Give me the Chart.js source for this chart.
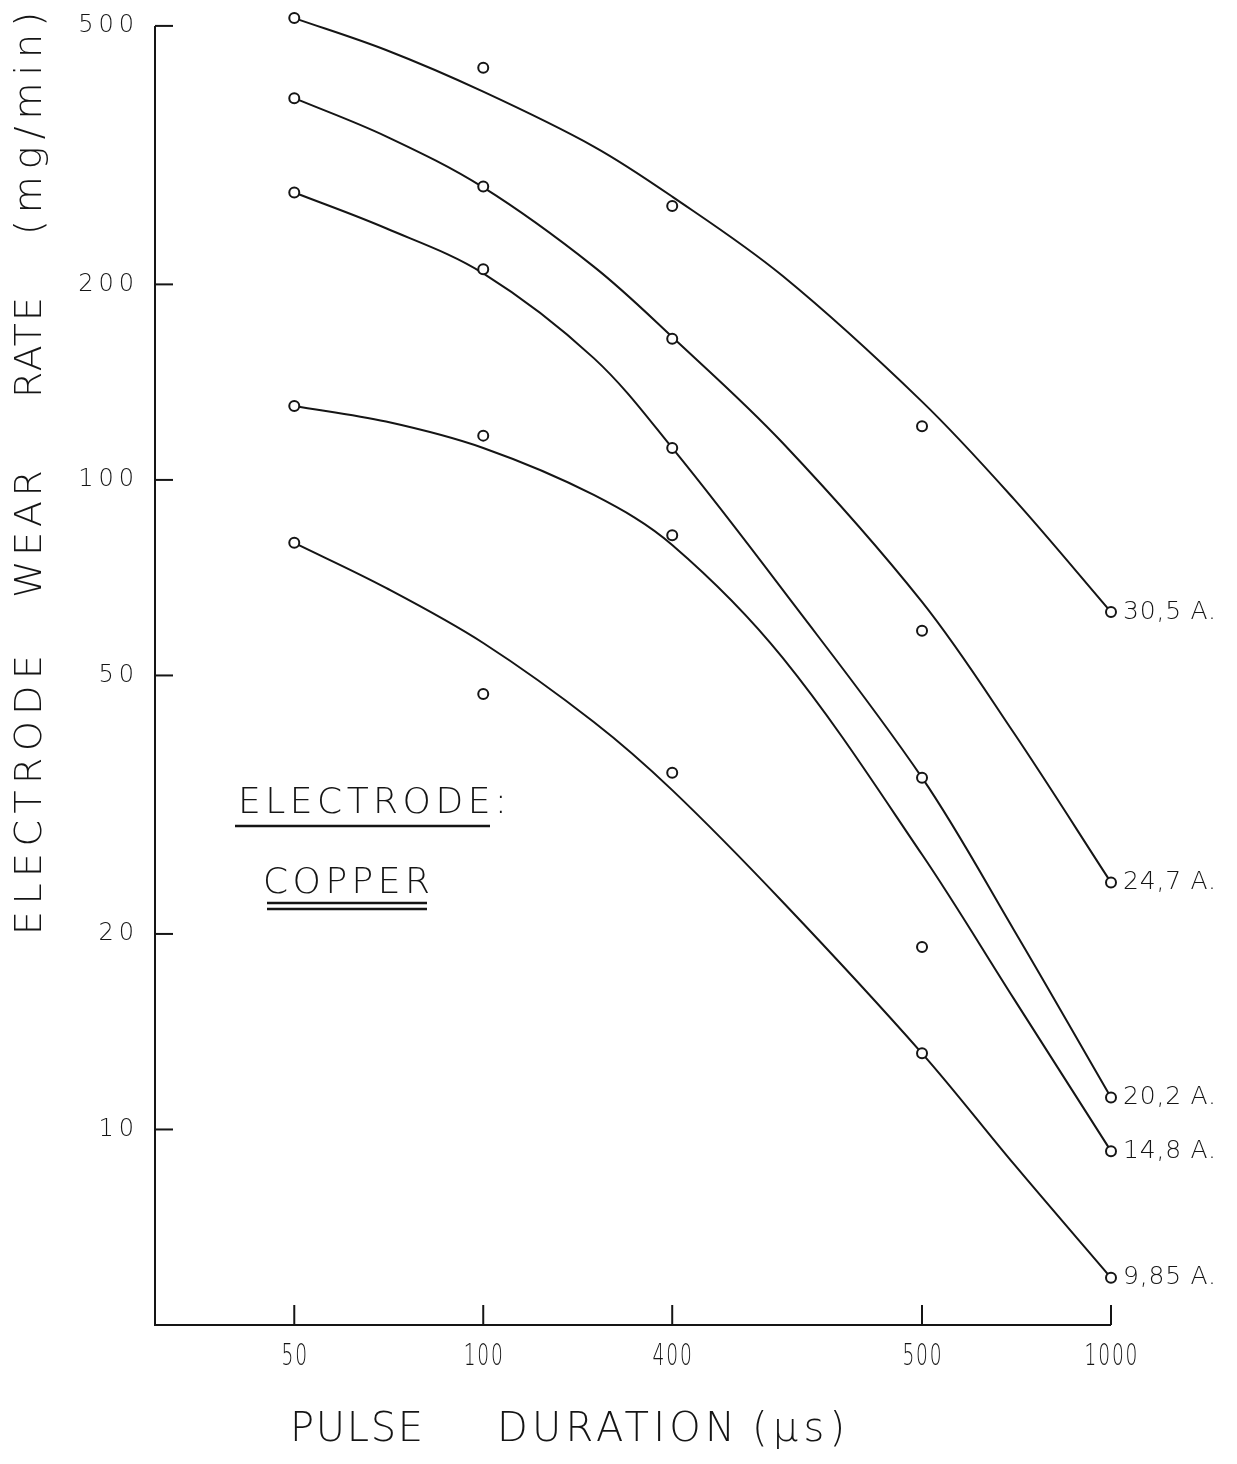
<!DOCTYPE html>
<html lang="en">
<head>
  <meta charset="UTF-8">
  <title>Electrode wear rate vs pulse duration</title>
  <script src="https://cdn.jsdelivr.net/npm/chart.js"></script>
  <style>
    html, body { margin: 0; padding: 0; background: #fff; }
    #wrap { width: 1237px; height: 1464px; position: relative; }
  </style>
</head>
<body>
  <div id="wrap"><canvas id="wearChart"></canvas></div>

  <script>
    // pulse duration (µs) - the axis is logarithmic; the printed "400" label sits at 200
    const xValues = [50, 100, 200, 500, 1000];
    const xTickLabels = ["50", "100", "400", "500", "1000"];
    const yTickValues = [10, 20, 50, 100, 200, 500];
    const seriesNames = ["30,5 A.", "24,7 A.", "20,2 A.", "14,8 A.", "9,85 A."];

    // measured points (mg/min)
    const measured305 = [514, 431, 264, 121, 62.6];
    const measured247 = [387, 283, 165, 58.6, 24.0];
    const measured202 = [277, 211, 112, 34.8, 11.2];
    const measured148 = [130, 117, 82.2, 19.1, 9.26];
    const measured985 = [80.0, 46.8, 35.4, 13.1, 5.91];

    // fitted curves at these pulse durations
    const fitX = [50, 70, 100, 150, 200, 300, 500, 700, 1000];
    const fitted305 = [514, 459, 396, 326, 273, 206, 132, 93.5, 62.6];
    const fitted247 = [387, 338, 282, 213, 166, 114, 64.9, 40.8, 24.0];
    const fitted202 = [277, 244, 208, 154, 112, 67.7, 34.8, 20.3, 11.2];
    const fitted148 = [130, 123, 112, 94.8, 79.4, 53.2, 26.5, 15.9, 9.26];
    const fitted985 = [80.0, 68.2, 56.1, 42.4, 33.3, 22.4, 13.1, 8.85, 5.91];

    const measured = [measured305, measured247, measured202, measured148, measured985];
    const fitted = [fitted305, fitted247, fitted202, fitted148, fitted985];

    const ink = "#151515";

    const datasets = [];
    fitted.forEach((arr, i) => {
      datasets.push({
        label: seriesNames[i] + " fit",
        data: arr.map((v, k) => ({ x: fitX[k], y: v })),
        showLine: true,
        borderColor: ink,
        borderWidth: 2,
        pointRadius: 0,
        tension: 0.35,
        order: 2,
        clip: false
      });
    });
    measured.forEach((arr, i) => {
      datasets.push({
        label: seriesNames[i],
        data: arr.map((v, k) => ({ x: xValues[k], y: v })),
        showLine: false,
        pointStyle: "circle",
        pointRadius: 5,
        pointBorderWidth: 2,
        pointBorderColor: ink,
        pointBackgroundColor: "#fff",
        order: 1,
        clip: false
      });
    });

    // draw text stretched between two x positions (letter spaced like the stencil lettering)
    function spaced(ctx, text, x0, x1, y, font) {
      ctx.font = font;
      ctx.letterSpacing = "0px";
      const w = ctx.measureText(text).width;
      const ls = text.length > 1 ? (x1 - x0 - w) / (text.length - 1) : 0;
      ctx.letterSpacing = ls + "px";
      ctx.textAlign = "left";
      ctx.textBaseline = "middle";
      ctx.fillText(text, x0, y);
      ctx.letterSpacing = "0px";
    }

    function rightSpaced(ctx, text, right, y, font, ls) {
      ctx.font = font;
      ctx.letterSpacing = "0px";
      const w = ctx.measureText(text).width + ls * (text.length - 1);
      ctx.letterSpacing = ls + "px";
      ctx.textAlign = "left";
      ctx.textBaseline = "middle";
      ctx.fillText(text, right - w, y);
      ctx.letterSpacing = "0px";
    }

    // narrow lettering for the x tick labels
    function narrowCentered(ctx, text, cx, y, font, squeeze, ls) {
      ctx.save();
      ctx.font = font;
      ctx.letterSpacing = ls + "px";
      const w = (ctx.measureText(text).width - ls) * squeeze;
      ctx.translate(cx - w / 2, y);
      ctx.scale(squeeze, 1);
      ctx.textAlign = "left";
      ctx.textBaseline = "middle";
      ctx.fillText(text, 0, 0);
      ctx.restore();
    }

    const lettering = {
      id: "lettering",
      afterDraw(chart) {
        const ctx = chart.ctx;
        const xs = chart.scales.x, ys = chart.scales.y;
        const area = chart.chartArea;
        const thin = '300 38px "DejaVu Sans", sans-serif';
        const top = ys.getPixelForValue(500);
        ctx.save();
        ctx.strokeStyle = ink;
        ctx.fillStyle = ink;
        ctx.lineWidth = 2;

        // axis lines
        ctx.beginPath();
        ctx.moveTo(area.left, top);
        ctx.lineTo(area.left, area.bottom);
        ctx.lineTo(area.right, area.bottom);
        ctx.stroke();

        // inward tick marks
        yTickValues.forEach(v => {
          const py = ys.getPixelForValue(v);
          ctx.beginPath();
          ctx.moveTo(area.left, py);
          ctx.lineTo(area.left + 18, py);
          ctx.stroke();
        });
        xValues.forEach(v => {
          const px = xs.getPixelForValue(v);
          ctx.beginPath();
          ctx.moveTo(px, area.bottom);
          ctx.lineTo(px, area.bottom - 20);
          ctx.stroke();
        });

        // tick labels
        yTickValues.forEach(v => {
          rightSpaced(ctx, String(v), 134, ys.getPixelForValue(v), '300 24px "DejaVu Sans", sans-serif', 5);
        });
        xValues.forEach((v, i) => {
          narrowCentered(ctx, xTickLabels[i], xs.getPixelForValue(v), area.bottom + 32,
            '300 30px "DejaVu Sans", sans-serif', 0.62, 3);
        });

        // series labels at the right end of each curve
        measured.forEach((arr, i) => {
          const py = ys.getPixelForValue(arr[arr.length - 1]);
          spaced(ctx, seriesNames[i], area.right + 12, area.right + 105, py, '300 25px "DejaVu Sans", sans-serif');
        });

        // x axis title
        const tf = '300 40px "DejaVu Sans", sans-serif';
        spaced(ctx, "PULSE", 290, 423, 1431, tf);
        spaced(ctx, "DURATION", 497, 735, 1431, tf);
        spaced(ctx, "(µs)", 752, 845, 1431, tf);

        // y axis title, rotated
        ctx.save();
        ctx.translate(31, 0);
        ctx.rotate(-Math.PI / 2);
        spaced(ctx, "ELECTRODE", -935, -655, 0, thin);
        spaced(ctx, "WEAR", -598, -470, 0, thin);
        spaced(ctx, "RATE", -398, -297, 0, thin);
        spaced(ctx, "(mg/min)", -235, -12, 0, thin);
        ctx.restore();

        // electrode note
        const nf = '300 36px "DejaVu Sans", sans-serif';
        spaced(ctx, "ELECTRODE:", 238, 507, 804, nf);
        spaced(ctx, "COPPER", 263, 430, 884, nf);
        ctx.lineWidth = 2.5;
        [[235, 490, 826], [267, 427, 903], [267, 427, 909]].forEach(([a, b, y]) => {
          ctx.beginPath();
          ctx.moveTo(a, y);
          ctx.lineTo(b, y);
          ctx.stroke();
        });
        ctx.restore();
      }
    };

    new Chart(document.getElementById("wearChart"), {
      type: "scatter",
      data: { datasets },
      options: {
        responsive: true,
        maintainAspectRatio: false,
        animation: false,
        layout: { padding: { top: 10, right: 126, left: 0, bottom: 0 } },
        plugins: {
          legend: { display: false },
          tooltip: { enabled: false },
          title: { display: false }
        },
        scales: {
          x: {
            type: "logarithmic",
            min: 30,
            max: 1000,
            grid: { display: false, drawTicks: false },
            border: { display: false },
            ticks: { display: false },
            afterFit(scale) { scale.height = 139; }
          },
          y: {
            type: "logarithmic",
            min: 5,
            max: 529,
            grid: { display: false, drawTicks: false },
            border: { display: false },
            ticks: { display: false },
            afterFit(scale) { scale.width = 155; }
          }
        }
      },
      plugins: [lettering]
    });
  </script>
</body>
</html>
